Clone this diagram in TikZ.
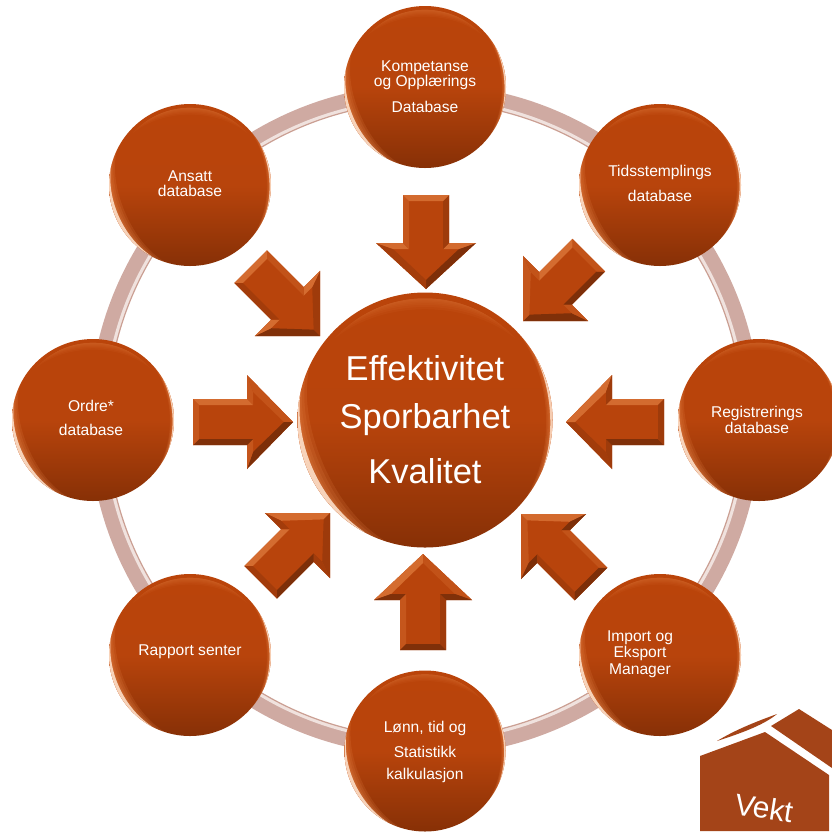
\documentclass[tikz,border=0pt]{standalone}
\usepackage{fontspec}
\setmainfont{Liberation Sans}
\definecolor{brown0}{HTML}{B8440C}
\definecolor{brownT}{HTML}{BA440A}
\definecolor{brownB}{HTML}{873006}
\definecolor{lite}{HTML}{DE7A3C}
\definecolor{dark}{HTML}{6A2808}
\definecolor{rimA}{HTML}{E8864A}
\definecolor{rimB}{HTML}{FFE6D2}
\definecolor{ringA}{HTML}{CFAAA2}
\definecolor{ringB}{HTML}{F0E2DE}
\definecolor{ringC}{HTML}{CBA094}
\definecolor{logoc}{HTML}{A44418}
\tikzset{
  x=1pt,y=-1pt,
  bub/.style={circle,draw=none,inner sep=0pt,top color=brownT,bottom color=brownB,middle color=brown0},
  lbl/.style={text=white,align=center,inner sep=0pt,font=\fontsize{15.6}{16}\selectfont},
  biglbl/.style={text=white,align=center,inner sep=0pt,font=\fontsize{34.5}{36}\selectfont},
}
% crescent: centre, radius, from angle, to angle (clockwise on the page), width, colour, opacity
\newcommand{\cresc}[8]{%
  \fill[#7,opacity=#8] plot[domain=#4:#5,samples=30] ({#1+#3*cos(\x)},{#2+#3*sin(\x)})
    -- plot[domain=#5:#4,samples=30] ({#1+(#3-#6*sin((\x-#4)/(#5-#4)*180))*cos(\x)},{#2+(#3-#6*sin((\x-#4)/(#5-#4)*180))*sin(\x)}) -- cycle;}
% stacked crescents give a soft edge: centre, radius, angles, largest relative width, colour, opacity per layer
\newcommand{\softcresc}[8]{%
  \foreach \k in {1,0.8,0.6,0.45,0.3,0.18}{%
    \pgfmathsetmacro{\ww}{#3*#6*\k}%
    \pgfmathsetmacro{\aa}{#4+(#5-#4)*(1-\k)*0.22}%
    \pgfmathsetmacro{\bb}{#5-(#5-#4)*(1-\k)*0.22}%
    \cresc{#1}{#2}{#3}{\aa}{\bb}{\ww}{#7}{#8}}}
\newcommand{\ball}[4]{% name, x, y, r
  \node[bub,minimum size=#4*2pt] (#1) at (#2,#3) {};
  % soft highlight below the top edge
  \pgfmathsetmacro{\rr}{#4*0.955}
  \softcresc{#2}{#3}{\rr}{222}{318}{0.09}{rimA}{0.07}
  % lower left glow and rim
  \softcresc{#2}{#3}{#4}{108}{205}{0.13}{rimA}{0.17}
  \pgfmathsetmacro{\wc}{#4*0.04}
  \cresc{#2}{#3}{#4}{118}{192}{\wc}{rimB}{0.85}
  % right rim
  \softcresc{#2}{#3}{#4}{-42}{38}{0.05}{rimA}{0.16}
  \pgfmathsetmacro{\wb}{#4*0.018}
  \cresc{#2}{#3}{#4}{-30}{22}{\wb}{rimB}{0.8}
}
% one bevel facet: local normal angle, then the polygon
\newcommand{\facet}[2]{%
  \pgfmathtruncatemacro{\lt}{80*cos(#1+\arrot-115)}%
  \ifnum\lt>0 \colorlet{fc}{lite!\lt!brown0}\else
    \pgfmathtruncatemacro{\lt}{-\lt}\colorlet{fc}{dark!\lt!brown0}\fi
  \fill[fc] #2;}
\newcommand{\blockarrow}[5]{% tip x, tip y, rotation, length, half width of head
  \def\arrot{#3}
  \begin{scope}[shift={(#1,#2)},rotate=#3,x=1pt,y=1pt]
    \pgfmathsetmacro{\Lx}{-#4}
    \pgfmathsetmacro{\Li}{-#4+6}
    \pgfmathsetmacro{\Hy}{#5}
    \pgfmathsetmacro{\Hi}{#5-17}
    \fill[brown0] (0,0) -- (-46,\Hy) -- (-46,23) -- (\Lx,23) -- (\Lx,-23) -- (-46,-23) -- (-46,-\Hy) -- cycle;
    \facet{46}{(0,0) -- (-46,\Hy) -- (-40,\Hi) -- (-9,0) -- cycle}
    \facet{-46}{(0,0) -- (-46,-\Hy) -- (-40,-\Hi) -- (-9,0) -- cycle}
    \facet{180}{(-46,\Hy) -- (-46,23) -- (-40,17) -- (-40,\Hi) -- cycle}
    \facet{180}{(-46,-\Hy) -- (-46,-23) -- (-40,-17) -- (-40,-\Hi) -- cycle}
    \facet{90}{(-46,23) -- (\Lx,23) -- (\Li,17) -- (-40,17) -- cycle}
    \facet{-90}{(-46,-23) -- (\Lx,-23) -- (\Li,-17) -- (-40,-17) -- cycle}
    \facet{180}{(\Lx,23) -- (\Lx,-23) -- (\Li,-17) -- (\Li,17) -- cycle}
  \end{scope}}
\begin{document}
\begin{tikzpicture}
\useasboundingbox (0,0) rectangle (832,831);
% ring
\coordinate (hub) at (425,420);
\draw[ringA,line width=18pt] (hub) circle[radius=327pt];
\draw[ringB,line width=3.5pt] (hub) circle[radius=320pt];
\draw[ringC,line width=1.2pt] (hub) circle[radius=318pt];
% satellites and hub
\ball{komp}{425}{87}{81}
\ball{tids}{660}{185}{81}
\ball{regi}{759}{420}{81}
\ball{impo}{660}{655}{81}
\ball{lonn}{425}{751}{80.5}
\ball{rapp}{190}{655}{81}
\ball{ordr}{93}{420}{81}
\ball{ansa}{190}{185}{81}
\ball{cent}{425}{420}{127.5}
% arrows
\blockarrow{426}{289}{-90}{94}{50}
\blockarrow{523}{321}{-135}{93}{46}
\blockarrow{566}{422}{180}{98}{47}
\blockarrow{521}{514}{135}{99}{46}
\blockarrow{423}{554}{90}{96}{49}
\blockarrow{330}{513}{45}{98}{46}
\blockarrow{293}{422}{0}{100}{47}
\blockarrow{320}{336}{-45}{98}{46}
% labels
\node[lbl] (t1) at (425,75) {Kompetanse\\[-0.6pt]og Opplærings};
\node[lbl] (t1b) at (425,107) {Database};
\node[lbl] (t2) at (660,172) {Tidsstemplings};
\node[lbl] (t2b) at (660,196) {database};
\node[lbl] (t3) at (757,420) {Registrerings\\[0.5pt]database};
\node[lbl] (t4) at (640,654) {Import og\\[0.5pt]Eksport\\[0.5pt]Manager};
\node[lbl] (t5) at (425,728) {Lønn, tid og};
\node[lbl] (t5b) at (425,752) {Statistikk};
\node[lbl] (t5c) at (425,775) {kalkulasjon};
\node[lbl] (t6) at (190,652) {Rapport senter};
\node[lbl] (t7) at (91,406) {Ordre*};
\node[lbl] (t7b) at (91,430) {database};
\node[lbl] (t8) at (190,184) {Ansatt\\[-1pt]database};
\node[biglbl] (c1) at (425,368) {Effektivitet};
\node[biglbl] (c2) at (425,420) {Sporbarhet};
\node[biglbl] (c3) at (425,471) {Kvalitet};
% logo
\fill[logoc] (700,756) -- (765,732) -- (829,775) -- (829,831) -- (700,831) -- cycle;
\fill[logoc] (771,726) -- (799,709) -- (832,730) -- (832,768) -- cycle;
\fill[logoc] (717,741) .. controls (735,730) and (755,722) .. (777,714) .. controls (765,724) and (745,732) .. (717,741) -- cycle;
\node[text=white,inner sep=0pt,rotate=-9,font=\fontsize{30}{31}\selectfont] (vekt) at (764,808) {Vekt};
\end{tikzpicture}
\end{document}
